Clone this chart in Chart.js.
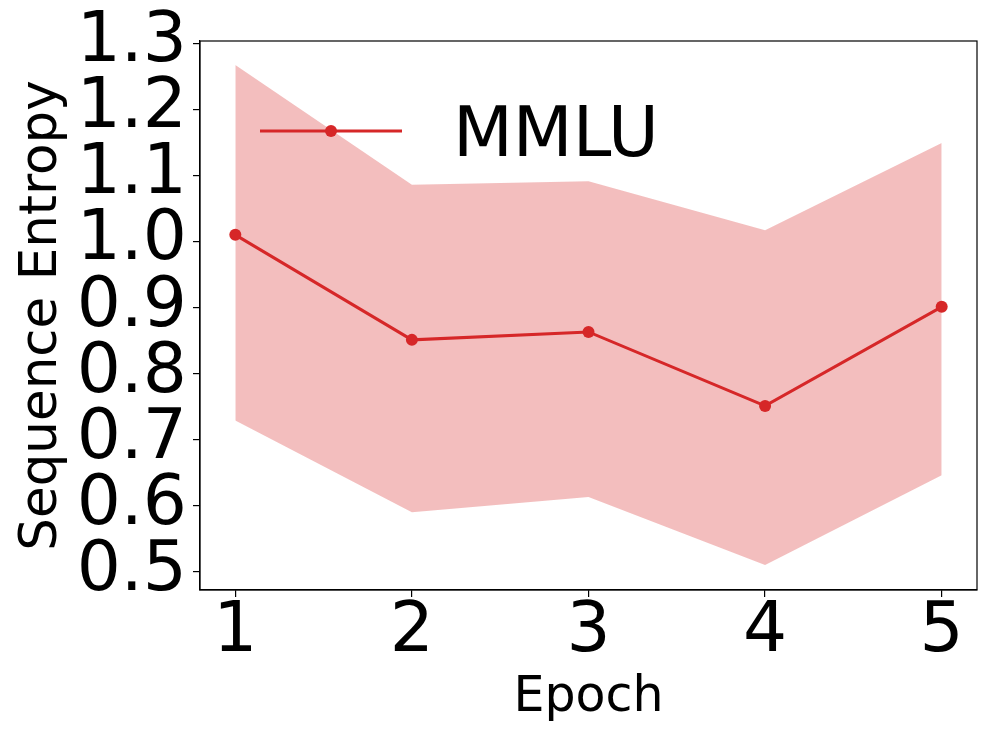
<!DOCTYPE html>
<html><head><meta charset="utf-8">
<script src="https://cdn.jsdelivr.net/npm/chart.js@4.4.1/dist/chart.umd.min.js"></script>
<style>html,body{margin:0;padding:0;background:#fff;} canvas{display:block;}</style>
</head><body>
<canvas id="c" width="996" height="747"></canvas>
<script>
const epochs = [1, 2, 3, 4, 5];
const meanEntropy = [1.010, 0.851, 0.863, 0.751, 0.901];
const upperEntropy = [1.267, 1.086, 1.091, 1.017, 1.149];
const lowerEntropy = [0.729, 0.590, 0.613, 0.510, 0.646];
const xTicks = [1, 2, 3, 4, 5];
const yTicks = [0.5, 0.6, 0.7, 0.8, 0.9, 1.0, 1.1, 1.2, 1.3];
const seriesName = 'MMLU';
const xTitle = 'Epoch';
const yTitle = 'Sequence Entropy';

const RED = '#d62728';
const BAND = 'rgba(214,39,40,0.3)';
const FONT = "'DejaVu Sans', sans-serif";
Chart.defaults.font.family = FONT;

function pts(vals) { return epochs.map((e, i) => ({ x: e, y: vals[i] })); }

const frame = {
  id: 'frame',
  afterDraw(chart) {
    const { ctx, chartArea: a } = chart;
    ctx.save();
    ctx.strokeStyle = '#000';
    ctx.lineWidth = 1.2;
    ctx.strokeRect(a.left, a.top, a.right - a.left, a.bottom - a.top);
    ctx.restore();
  }
};

const legendBox = {
  id: 'legendBox',
  afterDatasetsDraw(chart) {
    const ctx = chart.ctx, a = chart.chartArea;
    const ds = chart.data.datasets[0];
    const y = a.top + 90, x0 = a.left + 60, x1 = a.left + 202;
    ctx.save();
    ctx.strokeStyle = ds.borderColor;
    ctx.lineWidth = ds.borderWidth;
    ctx.beginPath(); ctx.moveTo(x0, y); ctx.lineTo(x1, y); ctx.stroke();
    ctx.fillStyle = ds.pointBackgroundColor;
    ctx.beginPath(); ctx.arc((x0 + x1) / 2, y, ds.pointRadius, 0, Math.PI * 2); ctx.fill();
    ctx.fillStyle = '#000';
    ctx.font = '69.4px ' + FONT;
    ctx.textBaseline = 'alphabetic';
    ctx.textAlign = 'left';
    ctx.fillText(ds.label, a.left + 253, a.top + 115);
    ctx.restore();
  }
};

new Chart(document.getElementById('c'), {
  type: 'line',
  data: {
    datasets: [
      { label: seriesName, data: pts(meanEntropy), borderColor: RED, borderWidth: 3,
        pointRadius: 6, pointBackgroundColor: RED, pointBorderWidth: 0, pointBorderColor: RED,
        fill: false, tension: 0 },
      { label: 'upper', data: pts(upperEntropy), borderWidth: 0, borderColor: 'rgba(0,0,0,0)',
        pointRadius: 0, backgroundColor: BAND, fill: '+1', tension: 0 },
      { label: 'lower', data: pts(lowerEntropy), borderWidth: 0, borderColor: 'rgba(0,0,0,0)',
        pointRadius: 0, fill: false, tension: 0 }
    ]
  },
  options: {
    responsive: false,
    animation: false,
    layout: { padding: { top: 41, right: 19, left: 0, bottom: 0 } },
    plugins: { legend: { display: false }, tooltip: { enabled: false } },
    scales: {
      x: {
        type: 'linear', min: 0.8, max: 5.2,
        afterBuildTicks: s => { s.ticks = xTicks.map(v => ({ value: v })); },
        afterFit: s => { s.height = 157; s.paddingLeft = 0; s.paddingRight = 0; },
        grid: { display: true, drawOnChartArea: false, drawTicks: true, tickLength: 7, color: '#000', lineWidth: 1.2 },
        border: { display: true, color: '#000', width: 1.2 },
        ticks: { font: { family: FONT, size: 69.4 }, color: '#000', padding: -6, maxRotation: 0, autoSkip: false,
                 callback: v => String(v) },
        title: { display: true, text: xTitle, color: '#000', font: { family: FONT, size: 49 },
                 padding: { top: 0, bottom: 19.6 } }
      },
      y: {
        type: 'linear', min: 0.4723, max: 1.3035,
        afterBuildTicks: s => { s.ticks = yTicks.map(v => ({ value: v })); },
        afterFit: s => { s.width = 200; s.paddingTop = 0; s.paddingBottom = 0; },
        grid: { display: true, drawOnChartArea: false, drawTicks: true, tickLength: 7, color: '#000', lineWidth: 1.2 },
        border: { display: true, color: '#000', width: 1.2 },
        ticks: { font: { family: FONT, size: 69.4 }, color: '#000', padding: 6, autoSkip: false,
                 callback: v => Number(v).toFixed(1) },
        title: { display: true, text: yTitle, color: '#000', font: { family: FONT, size: 51.5 },
                 padding: { top: 11.3, bottom: 0 } }
      }
    }
  },
  plugins: [frame, legendBox]
});
</script>
</body></html>
